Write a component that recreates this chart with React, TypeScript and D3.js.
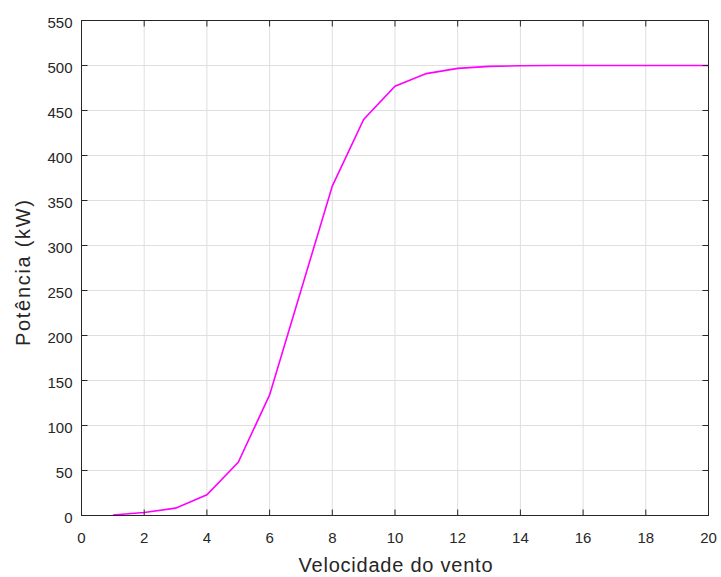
import React from "react";
import * as d3 from "d3";

const windSpeed = [1, 2, 3, 4, 5, 6, 7, 8, 9, 10, 11, 12, 13, 14, 15, 16, 17, 18, 19, 20];
const power = [0.5, 3.3, 8.2, 23, 59, 134, 250, 366, 440, 477, 491, 496.8, 499, 499.7, 500, 500, 500, 500, 500, 500];
const xTicks = [0, 2, 4, 6, 8, 10, 12, 14, 16, 18, 20];
const yTicks = [0, 50, 100, 150, 200, 250, 300, 350, 400, 450, 500, 550];
const xLabel = "Velocidade do vento";
const yLabel = "Potência (kW)";

const W = 721, H = 577;
const L = 81.5, R = 708.5, T = 20.5, B = 515.5;

export default function App() {
  const x = d3.scaleLinear().domain([0, 20]).range([L, R]);
  const y = d3.scaleLinear().domain([0, 550]).range([B, T]);
  const line = d3.line<number>().x((_, i) => x(windSpeed[i])).y((d) => y(d));
  const axisColor = "#262626";
  const font = "'Liberation Sans', Arial, Helvetica, sans-serif";
  return (
    <svg width={W} height={H} style={{ position: "absolute", left: 0, top: 0 }}>
      <rect x={0} y={0} width={W} height={H} fill="#fff" />
      {xTicks.map((t) => (
        <line key={"gx" + t} x1={x(t)} x2={x(t)} y1={T} y2={B} stroke="#dfdfdf" strokeWidth={1} />
      ))}
      {yTicks.map((t) => (
        <line key={"gy" + t} x1={L} x2={R} y1={y(t)} y2={y(t)} stroke="#dfdfdf" strokeWidth={1} />
      ))}
      <path d={line(power) || ""} fill="none" stroke="#ff00ff" strokeWidth={1.6} />
      {xTicks.map((t) => (
        <g key={"tx" + t}>
          <line x1={x(t)} x2={x(t)} y1={B} y2={B - 6} stroke={axisColor} />
          <line x1={x(t)} x2={x(t)} y1={T} y2={T + 6} stroke={axisColor} />
          <text x={x(t)} y={B + 27.5} textAnchor="middle" fontSize={15} fill={axisColor} fontFamily={font}>{t}</text>
        </g>
      ))}
      {yTicks.map((t) => (
        <g key={"ty" + t}>
          <line x1={L} x2={L + 6} y1={y(t)} y2={y(t)} stroke={axisColor} />
          <line x1={R} x2={R - 6} y1={y(t)} y2={y(t)} stroke={axisColor} />
          <text x={L - 9} y={y(t) + 7.5} textAnchor="end" fontSize={15} fill={axisColor} fontFamily={font}>{t}</text>
        </g>
      ))}
      <rect x={L} y={T} width={R - L} height={B - T} fill="none" stroke={axisColor} strokeWidth={1} />
      <text x={395.5} y={572} textAnchor="middle" fontSize={20} fill={axisColor} fontFamily={font}
        textLength={194} lengthAdjust="spacing">{xLabel}</text>
      <text transform={`translate(30,273) rotate(-90)`} textAnchor="middle" fontSize={20} fill={axisColor} fontFamily={font}
        textLength={146} lengthAdjust="spacing">{yLabel}</text>
    </svg>
  );
}
